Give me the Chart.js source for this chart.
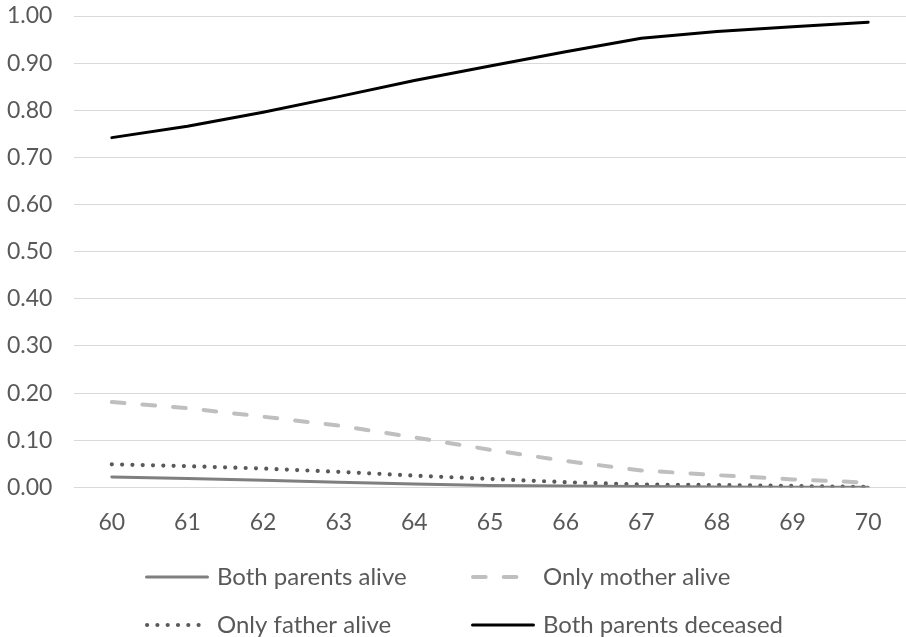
<!DOCTYPE html>
<html>
<head>
<meta charset="utf-8">
<script src="https://cdn.jsdelivr.net/npm/chart.js@4/dist/chart.umd.min.js"></script>
<style>
html,body{margin:0;padding:0;background:#ffffff;}
#wrap{width:906px;height:637px;position:relative;}
</style>
</head>
<body>
<div id="wrap"><canvas id="c"></canvas></div>
<script>
// ---- data ----
const ages = ['60','61','62','63','64','65','66','67','68','69','70'];
const seriesNames = ['Both parents alive','Only mother alive','Only father alive','Both parents deceased'];
const bothAlive    = [0.022, 0.019, 0.015, 0.011, 0.007, 0.004, 0.003, 0.002, 0.001, 0.0005, 0.0002];
const motherOnly   = [0.181, 0.168, 0.150, 0.131, 0.106, 0.080, 0.056, 0.036, 0.026, 0.017, 0.010];
const fatherOnly   = [0.049, 0.045, 0.040, 0.033, 0.025, 0.018, 0.011, 0.006, 0.005, 0.003, 0.001];
const bothDeceased = [0.742, 0.766, 0.796, 0.829, 0.863, 0.894, 0.924, 0.953, 0.967, 0.977, 0.987];
const yMin = 0, yMax = 1, yStep = 0.1;

const FONT = 'Lato, "Open Sans", sans-serif';
const TEXT = '#595959';

// custom grid-style legend (two columns, two rows) drawn below the plot
const gridLegend = {
  id: 'gridLegend',
  afterDraw(chart) {
    const ctx = chart.ctx;
    const colX = [145, 471];
    const rowY = [577, 625];
    const swatch = 64;
    ctx.save();
    ctx.font = '24px ' + FONT;
    ctx.textBaseline = 'middle';
    ctx.textAlign = 'left';
    chart.data.datasets.forEach((ds, i) => {
      const x = colX[i % 2], y = rowY[Math.floor(i / 2)];
      ctx.beginPath();
      ctx.strokeStyle = ds.borderColor;
      ctx.lineWidth = ds.borderWidth;
      ctx.lineCap = ds.borderCapStyle || 'butt';
      ctx.setLineDash(ds.borderDash || []);
      const inset = ds.borderCapStyle === 'round' ? ds.borderWidth / 2 : 0;
      ctx.moveTo(x + inset, y);
      ctx.lineTo(x + swatch - inset, y);
      ctx.stroke();
      ctx.setLineDash([]);
      ctx.fillStyle = TEXT;
      ctx.fillText(ds.label, x + swatch + 8, y);
    });
    ctx.restore();
  }
};

new Chart(document.getElementById('c'), {
  type: 'line',
  data: {
    labels: ages,
    datasets: [
      { label: seriesNames[0], data: bothAlive, borderColor: '#7f7f7f', borderWidth: 3 },
      { label: seriesNames[1], data: motherOnly, borderColor: '#bfbfbf', borderWidth: 4, borderDash: [12.7, 18] },
      { label: seriesNames[2], data: fatherOnly, borderColor: '#595959', borderWidth: 4.2, borderDash: [0, 10.3] },
      { label: seriesNames[3], data: bothDeceased, borderColor: '#000000', borderWidth: 3 }
    ].map(d => Object.assign({ pointRadius: 0, pointHoverRadius: 0, tension: 0, fill: false, borderJoinStyle: 'round', borderCapStyle: 'round' }, d))
  },
  options: {
    responsive: true,
    maintainAspectRatio: false,
    animation: false,
    events: [],
    layout: { padding: { top: 16, right: 0, left: 7, bottom: 80 } },
    plugins: { legend: { display: false }, tooltip: { enabled: false }, title: { display: false } },
    scales: {
      x: {
        offset: true,
        grid: { display: false, drawTicks: false },
        border: { display: false },
        ticks: { color: TEXT, font: { family: FONT, size: 23 }, padding: 21, maxRotation: 0 }
      },
      y: {
        min: yMin, max: yMax,
        grid: { color: '#d9d9d9', lineWidth: 1, drawTicks: false },
        border: { display: false },
        ticks: {
          stepSize: yStep, color: TEXT, font: { family: FONT, size: 23 }, padding: 0,
          crossAlign: 'far',
          callback: v => Number(v).toFixed(2)
        },
        afterFit(scale) { scale.width = 67; }
      }
    }
  },
  plugins: [gridLegend]
});
</script>
</body>
</html>
